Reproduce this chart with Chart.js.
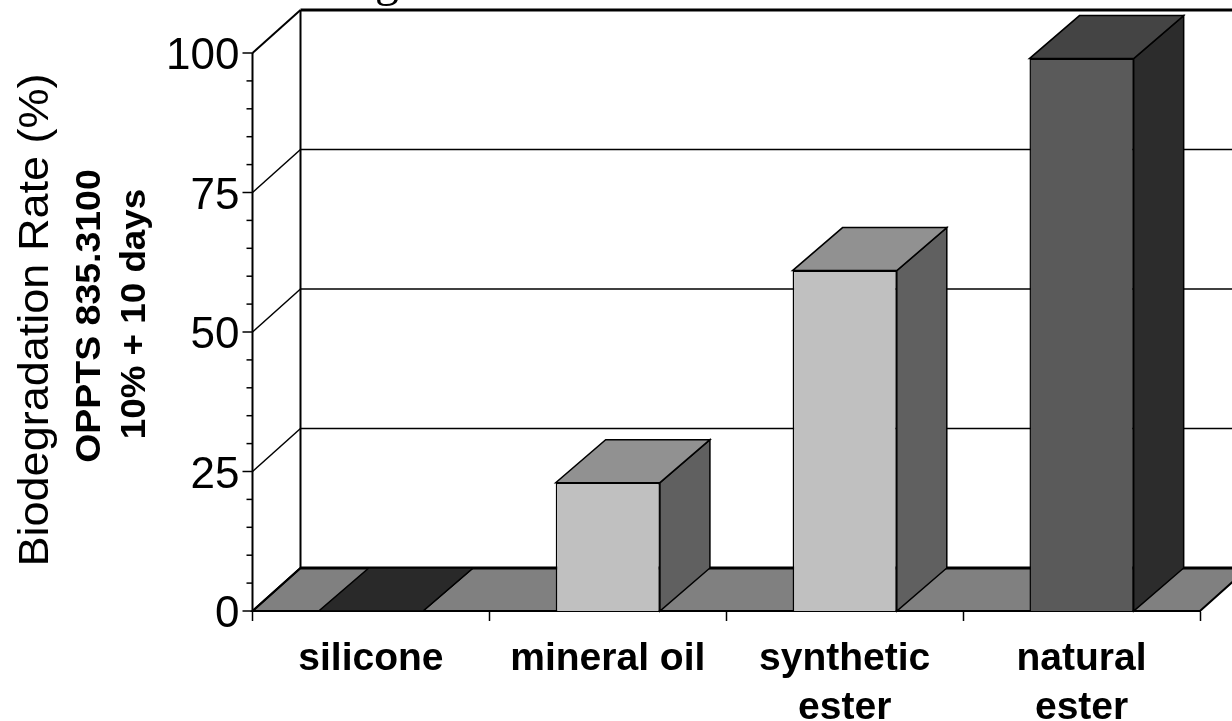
<!DOCTYPE html>
<html>
<head>
<meta charset="utf-8">
<title>Biodegradation Rate</title>
<style>
  html, body { margin: 0; padding: 0; background: #fff; overflow: hidden; }
  canvas { display: block; }
</style>
<script src="https://cdn.jsdelivr.net/npm/chart.js@4/dist/chart.umd.min.js"></script>
</head>
<body>
<canvas id="myChart" width="1232" height="721"></canvas>
<script>
// values
const categories = ['silicone', 'mineral oil', ['synthetic', 'ester'], ['natural', 'ester']];
const biodegradation = [0, 23, 61, 99];
const majorTicks = [0, 25, 50, 75, 100];

// bar shades: front, top, side
const frontColors = ['#404040', '#c0c0c0', '#c0c0c0', '#5a5a5a'];
const topColors = ['#292929', '#919191', '#919191', '#444444'];
const sideColors = ['#1c1c1c', '#606060', '#606060', '#2c2c2c'];

const depthX = 48; // how far the back wall sits right of the front axis
const depthY = 43; // and how far up
const barDepthX = 50;
const sansFont = '"Liberation Sans", Arial, sans-serif';

function poly(ctx, pts, fill, lineWidth) {
    ctx.beginPath();
    ctx.moveTo(pts[0][0], pts[0][1]);
    for (let i = 1; i < pts.length; i++) {
        ctx.lineTo(pts[i][0], pts[i][1]);
    }
    ctx.closePath();
    if (fill) {
        ctx.fillStyle = fill;
        ctx.fill();
    }
    ctx.lineWidth = lineWidth;
    ctx.strokeStyle = '#000';
    ctx.stroke();
}

function line(ctx, x1, y1, x2, y2, width) {
    ctx.beginPath();
    ctx.moveTo(x1, y1);
    ctx.lineTo(x2, y2);
    ctx.lineWidth = width;
    ctx.strokeStyle = '#000';
    ctx.stroke();
}

// the reference text is a little wider than the font, so stretch along the reading direction
function rotatedText(ctx, text, x, y, font, stretch) {
    ctx.save();
    ctx.translate(x, y);
    ctx.rotate(-Math.PI / 2);
    ctx.scale(stretch, 1);
    ctx.font = font;
    ctx.fillStyle = '#000';
    ctx.textAlign = 'center';
    ctx.textBaseline = 'middle';
    ctx.fillText(text, 0, 0);
    ctx.restore();
}

// Chart.js has no 3D bars, so the walls, floor and box faces are added around the real bars
const box3d = {
    id: 'box3d',
    beforeDraw(chart) {
        // value labels sit a few pixels under their ticks in the reference
        chart.scales.y.getLabelItems(chart.chartArea).forEach(function(item) {
            item.options.translation[1] += 4;
        });
    },
    beforeDatasetsDraw(chart) {
        const ctx = chart.ctx;
        const yAxis = chart.scales.y;
        const left = chart.chartArea.left;
        const right = chart.chartArea.right;
        const y0 = yAxis.getPixelForValue(0);
        const y100 = yAxis.getPixelForValue(100);

        ctx.save();
        // floor
        poly(ctx, [[left, y0], [right, y0], [right + depthX, y0 - depthY], [left + depthX, y0 - depthY]], '#808080', 2);

        // grid lines on the side wall and the back wall
        majorTicks.forEach(function(v) {
            const y = yAxis.getPixelForValue(v);
            const edge = v === 100 || v === 0;
            line(ctx, left, y, left + depthX, y - depthY, edge ? 2 : 1.5);
            line(ctx, left + depthX, y - depthY, right + depthX, y - depthY, edge ? 3 : 1.5);
        });
        line(ctx, left + depthX, y100 - depthY, left + depthX, y0 - depthY, 2);

        // value axis with its tick marks
        line(ctx, left, y100, left, y0, 2);
        yAxis.ticks.forEach(function(t) {
            const y = yAxis.getPixelForValue(t.value);
            line(ctx, left - (majorTicks.includes(t.value) ? 10 : 6), y, left, y, 1.5);
        });

        // top and side of every bar, the front comes from Chart.js
        chart.getDatasetMeta(0).data.forEach(function(bar, i) {
            const x1 = bar.x - bar.width / 2;
            const x2 = bar.x + bar.width / 2;
            poly(ctx, [[x2, bar.y], [x2 + barDepthX, bar.y - depthY], [x2 + barDepthX, bar.base - depthY], [x2, bar.base]], sideColors[i], 1.5);
            poly(ctx, [[x1, bar.y], [x2, bar.y], [x2 + barDepthX, bar.y - depthY], [x1 + barDepthX, bar.y - depthY]], topColors[i], 1.5);
        });
        ctx.restore();
    },
    afterDraw(chart) {
        const ctx = chart.ctx;
        rotatedText(ctx, 'Biodegradation Rate (%)', 36, 320, '43px ' + sansFont, 1.047);
        rotatedText(ctx, 'OPPTS 835.3100', 90, 316, 'bold 35px ' + sansFont, 1.07);
        rotatedText(ctx, '10% + 10 days', 135, 314, 'bold 35px ' + sansFont, 1.05);
        // the only part of the cut-off title still inside the picture
        ctx.save();
        ctx.font = '48px "Liberation Serif", serif';
        ctx.fillStyle = '#000';
        ctx.textAlign = 'center';
        ctx.textBaseline = 'alphabetic';
        ctx.fillText('g', 387, -4);
        ctx.restore();
    }
};

const ctx = document.getElementById('myChart').getContext('2d');
const myChart = new Chart(ctx, {
    type: 'bar',
    data: {
        labels: categories,
        datasets: [{
            data: biodegradation,
            backgroundColor: frontColors,
            borderColor: '#000',
            borderWidth: 1.5,
            barPercentage: 0.44,
            categoryPercentage: 1
        }]
    },
    options: {
        responsive: false,
        animation: false,
        layout: { padding: { top: 53, right: 32, left: 0, bottom: 0 } },
        plugins: {
            legend: { display: false },
            tooltip: { enabled: false }
        },
        scales: {
            x: {
                grid: { offset: true, drawOnChartArea: false, tickLength: 10, tickColor: '#000', tickWidth: 1.5 },
                border: { display: true, color: '#000', width: 2 },
                ticks: {
                    color: '#000',
                    padding: 14,
                    maxRotation: 0,
                    autoSkip: false,
                    font: { family: sansFont, size: 39, weight: 'bold', lineHeight: 1.25 }
                },
                afterFit(scale) { scale.height = 110; }
            },
            y: {
                min: 0,
                max: 100,
                grid: { display: false, drawTicks: false },
                border: { display: false },
                ticks: {
                    stepSize: 5,
                    autoSkip: false,
                    color: '#000',
                    padding: 13,
                    font: { family: sansFont, size: 44 },
                    callback: function(value) {
                        return majorTicks.includes(value) ? value : '';
                    }
                },
                afterFit(scale) { scale.width = 252.5; }
            }
        }
    },
    plugins: [box3d]
});
</script>
</body>
</html>
